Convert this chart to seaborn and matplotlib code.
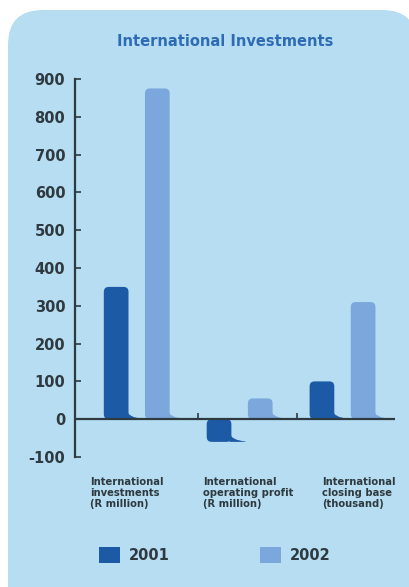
import matplotlib
matplotlib.use("Agg")
import matplotlib.pyplot as plt
import matplotlib.transforms as mtransforms
from matplotlib.patches import FancyBboxPatch, Patch, PathPatch
from matplotlib.path import Path
import seaborn as sns
import pandas as pd

# ---- data ----
categories = [
    "International\ninvestments\n(R million)",
    "International\noperating profit\n(R million)",
    "International\nclosing base\n(thousand)",
]
years = ["2001", "2002"]
values_2001 = [350, -60, 100]
values_2002 = [875, 55, 310]
yticks = [-100, 0, 100, 200, 300, 400, 500, 600, 700, 800, 900]
title = "International Investments"

df = pd.DataFrame({
    "category": categories * 2,
    "year": [years[0]] * len(categories) + [years[1]] * len(categories),
    "value": values_2001 + values_2002,
})

# ---- style ----
BG = "#b7ddf2"
DARK = "#1c5aa6"
LIGHT = "#7ba7dc"
INK = "#2e3a3f"
TITLE_BLUE = "#2d6cb5"

sns.set_theme(style="white")
plt.rcParams["font.family"] = ["DejaVu Sans"]

W, H = 409, 587
fig = plt.figure(figsize=(W / 100, H / 100), dpi=100)
fig.patch.set_facecolor("white")

# rounded light-blue panel behind everything
panel = FancyBboxPatch(
    (8 / W, -0.1), 1.0, 1 - 10 / H + 0.1,
    boxstyle="round,pad=0,rounding_size=0.085",
    mutation_aspect=W / H,
    transform=fig.transFigure, facecolor=BG, edgecolor="none", zorder=-5,
)
fig.patches.append(panel)

ax = fig.add_axes([75 / W, 130 / H, 320 / W, 378 / H])
ax.set_facecolor("none")
ax.set_zorder(2)

sns.barplot(
    data=df, x="category", y="value", hue="year",
    palette=[DARK, LIGHT], saturation=1, width=0.8, gap=0.4,
    ax=ax, legend=False, errorbar=None,
)

ax.set_ylim(-100, 900)
ax.set_xlim(-0.6, 2.51)

# data units per pixel, for rounded corners and the small base "foot"
xpp = (2.51 + 0.6) / 320
ypp = 1000 / 378
radius_px = 5
for bar in list(ax.patches):
    x, w = bar.get_x(), bar.get_width()
    y0 = min(bar.get_y(), bar.get_y() + bar.get_height())
    h = abs(bar.get_height())
    if h == 0:
        continue
    color = bar.get_facecolor()
    rb = FancyBboxPatch(
        (x, y0), w, h,
        boxstyle=f"round,pad=0,rounding_size={radius_px * xpp}",
        mutation_aspect=ypp / xpp,
        facecolor=color, edgecolor="none", zorder=3,
    )
    ax.add_patch(rb)
    # flared foot to the right of the bar base
    xr = x + w
    verts = [
        (xr - 2 * xpp, y0 + 9 * ypp),
        (xr, y0 + 1.5 * ypp),
        (xr + 14 * xpp, y0 + 0.5 * ypp),
        (xr + 14 * xpp, y0),
        (xr - 2 * xpp, y0),
        (xr - 2 * xpp, y0 + 9 * ypp),
    ]
    codes = [Path.MOVETO, Path.CURVE3, Path.CURVE3, Path.LINETO, Path.LINETO, Path.CLOSEPOLY]
    ax.add_patch(PathPatch(Path(verts, codes), facecolor=color, edgecolor="none", zorder=3))
    bar.set_visible(False)

# axes lines
for side in ["top", "right", "bottom"]:
    ax.spines[side].set_visible(False)
ax.spines["left"].set_color(INK)
ax.spines["left"].set_linewidth(1.6)
ax.axhline(0, color=INK, lw=1.6, zorder=4)
ax.vlines([0.6, 1.56], 0, 16, color=INK, lw=1.2, zorder=4)

ax.set_yticks(yticks)
ax.set_yticklabels([str(t) for t in yticks], fontweight="bold", color=INK)
ax.tick_params(axis="y", direction="in", length=4, width=1.2, color=INK,
               labelsize=10.5, pad=7, left=True)
ax.set_xticks([])
ax.set_xlabel("")
ax.set_ylabel("")

# category captions under the axis
cap_x = [-0.45, 0.646, 1.80]
trans = mtransforms.blended_transform_factory(ax.transData, fig.transFigure)
for cx, label in zip(cap_x, categories):
    ax.text(cx, 1 - 477 / H, label, transform=trans, ha="left", va="top",
            fontsize=7.2, fontweight="bold", color=INK, linespacing=1.15)

fig.text(225 / W, 1 - 41 / H, title, ha="center", va="center",
         fontsize=10.5, fontweight="bold", color=TITLE_BLUE)

handles = [Patch(facecolor=DARK, edgecolor="none"), Patch(facecolor=LIGHT, edgecolor="none")]
leg = fig.legend(
    handles, years, loc="center", bbox_to_anchor=(215 / W, 1 - 555 / H),
    ncol=2, frameon=False, prop={"weight": "bold", "size": 10.5},
    handlelength=1.4, handleheight=1.4, handletextpad=0.65, columnspacing=6.2,
    labelcolor=INK,
)

fig.savefig("out.png", dpi=100, facecolor=fig.get_facecolor())
